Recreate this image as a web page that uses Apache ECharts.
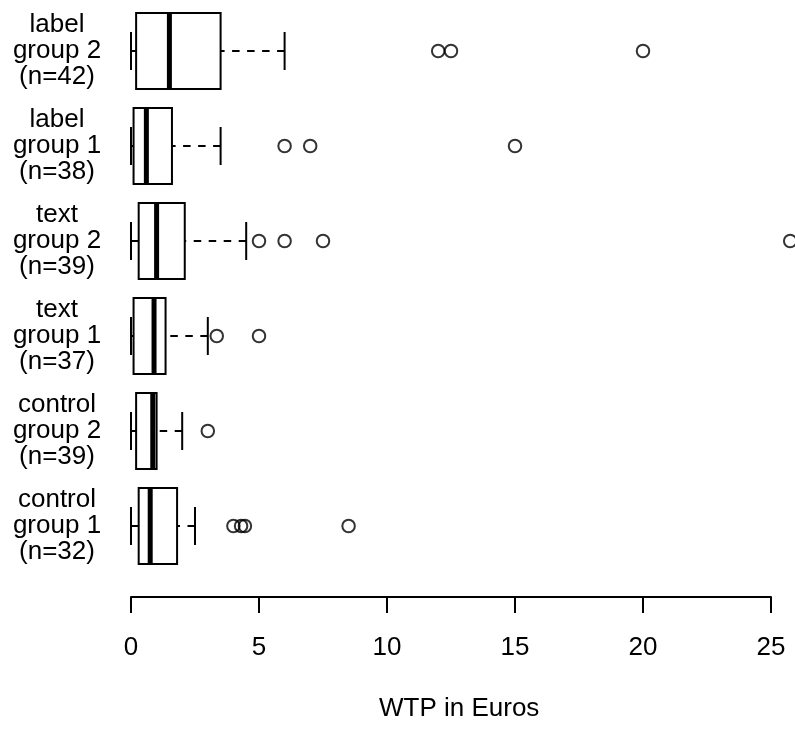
<!DOCTYPE html>
<html>
<head>
<meta charset="utf-8">
<title>WTP in Euros by group</title>
<script src="https://cdn.jsdelivr.net/npm/echarts@6/dist/echarts.min.js"></script>
<style>
  html, body { margin: 0; padding: 0; background: #fff; }
  #chart { width: 795px; height: 731px; }
</style>
</head>
<body>
<div id="chart"></div>
<script>
// Groups, bottom to top
const groupNames = ['control\ngroup 1', 'control\ngroup 2', 'text\ngroup 1', 'text\ngroup 2', 'label\ngroup 1', 'label\ngroup 2'];
const groupSizes = [32, 39, 37, 39, 38, 42];

// Five-number summaries per group: [lower whisker, Q1, median, Q3, upper whisker]
const lowerWhisker = [0, 0, 0, 0, 0, 0];
const q1Values     = [0.3, 0.2, 0.1, 0.3, 0.1, 0.2];
const medianValues = [0.75, 0.85, 0.9, 1.0, 0.6, 1.5];
const q3Values     = [1.8, 1.0, 1.35, 2.1, 1.6, 3.5];
const upperWhisker = [2.5, 2.0, 3.0, 4.5, 3.5, 6.0];

// Outlying WTP values per group
const outliers = [
  [4.0, 4.3, 4.45, 8.5],
  [3.0],
  [3.35, 5.0],
  [5.0, 6.0, 7.5, 25.75],
  [6.0, 7.0, 15.0],
  [12.0, 12.5, 20.0]
];

// Axis ticks
const xTicks = [0, 5, 10, 15, 20, 25];
const xTitle = 'WTP in Euros';

const FONT = '"Liberation Sans", Arial, Helvetica, sans-serif';

const categoryLabels = groupNames.map((g, i) => g + '\n(n=' + groupSizes[i] + ')');

const boxData = groupNames.map((_, i) => [i, lowerWhisker[i], q1Values[i], medianValues[i], q3Values[i], upperWhisker[i]]);

const outlierData = [];
outliers.forEach((vals, i) => vals.forEach(v => outlierData.push([v, i])));

function renderBox(params, api) {
  const cat = api.value(0);
  const pMin = api.coord([api.value(1), cat]);
  const pQ1 = api.coord([api.value(2), cat]);
  const pMed = api.coord([api.value(3), cat]);
  const pQ3 = api.coord([api.value(4), cat]);
  const pMax = api.coord([api.value(5), cat]);
  const band = api.size([0, 1])[1];
  const half = band * 0.4;
  const staple = half / 2;
  const cy = pMed[1];
  const stroke = { stroke: '#000', lineWidth: 2, fill: null };
  const dashed = { stroke: '#000', lineWidth: 2, lineDash: [7.5, 7.5], fill: null };
  return {
    type: 'group',
    children: [
      { type: 'line', shape: { x1: pMin[0], y1: cy, x2: pQ1[0], y2: cy }, style: dashed },
      { type: 'line', shape: { x1: pMax[0], y1: cy, x2: pQ3[0], y2: cy }, style: dashed },
      { type: 'line', shape: { x1: pMin[0], y1: cy - staple, x2: pMin[0], y2: cy + staple }, style: stroke },
      { type: 'line', shape: { x1: pMax[0], y1: cy - staple, x2: pMax[0], y2: cy + staple }, style: stroke },
      { type: 'rect', shape: { x: pQ1[0], y: cy - half, width: pQ3[0] - pQ1[0], height: 2 * half },
        style: { stroke: '#000', lineWidth: 2, fill: '#fff' } },
      { type: 'line', shape: { x1: pMed[0], y1: cy - half, x2: pMed[0], y2: cy + half },
        style: { stroke: '#000', lineWidth: 5 } }
    ]
  };
}

const chart = echarts.init(document.getElementById('chart'), null, { renderer: 'canvas' });
chart.setOption({
  animation: false,
  backgroundColor: '#fff',
  grid: { left: 131, width: 640, top: 3.5, height: 570 },
  xAxis: {
    type: 'value',
    min: xTicks[0],
    max: xTicks[xTicks.length - 1],
    interval: xTicks[1] - xTicks[0],
    offset: 23.5,
    splitLine: { show: false },
    axisLine: { show: true, lineStyle: { color: '#000', width: 2 } },
    axisTick: { show: true, length: 16, lineStyle: { color: '#000', width: 2 } },
    axisLabel: { color: '#000', fontSize: 26, fontFamily: FONT, margin: 38 }
  },
  yAxis: {
    type: 'category',
    data: categoryLabels,
    axisLine: { show: false },
    axisTick: { show: false },
    splitLine: { show: false },
    axisLabel: {
      color: '#000', fontSize: 26, lineHeight: 26, fontFamily: FONT,
      align: 'center', margin: 74, interval: 0
    }
  },
  graphic: [{
    type: 'text',
    left: 461 - 82, top: 696,
    style: { text: xTitle, fill: '#000', font: '26px ' + FONT }
  }],
  series: [
    {
      type: 'custom',
      renderItem: renderBox,
      data: boxData,
      encode: { x: [1, 2, 3, 4, 5], y: 0 },
      clip: false
    },
    {
      type: 'scatter',
      data: outlierData,
      symbol: 'circle',
      symbolSize: 12.5,
      clip: false,
      itemStyle: { color: 'rgba(0,0,0,0)', borderColor: '#000', borderWidth: 2 },
      emphasis: { disabled: true }
    }
  ]
});
</script>
</body>
</html>
